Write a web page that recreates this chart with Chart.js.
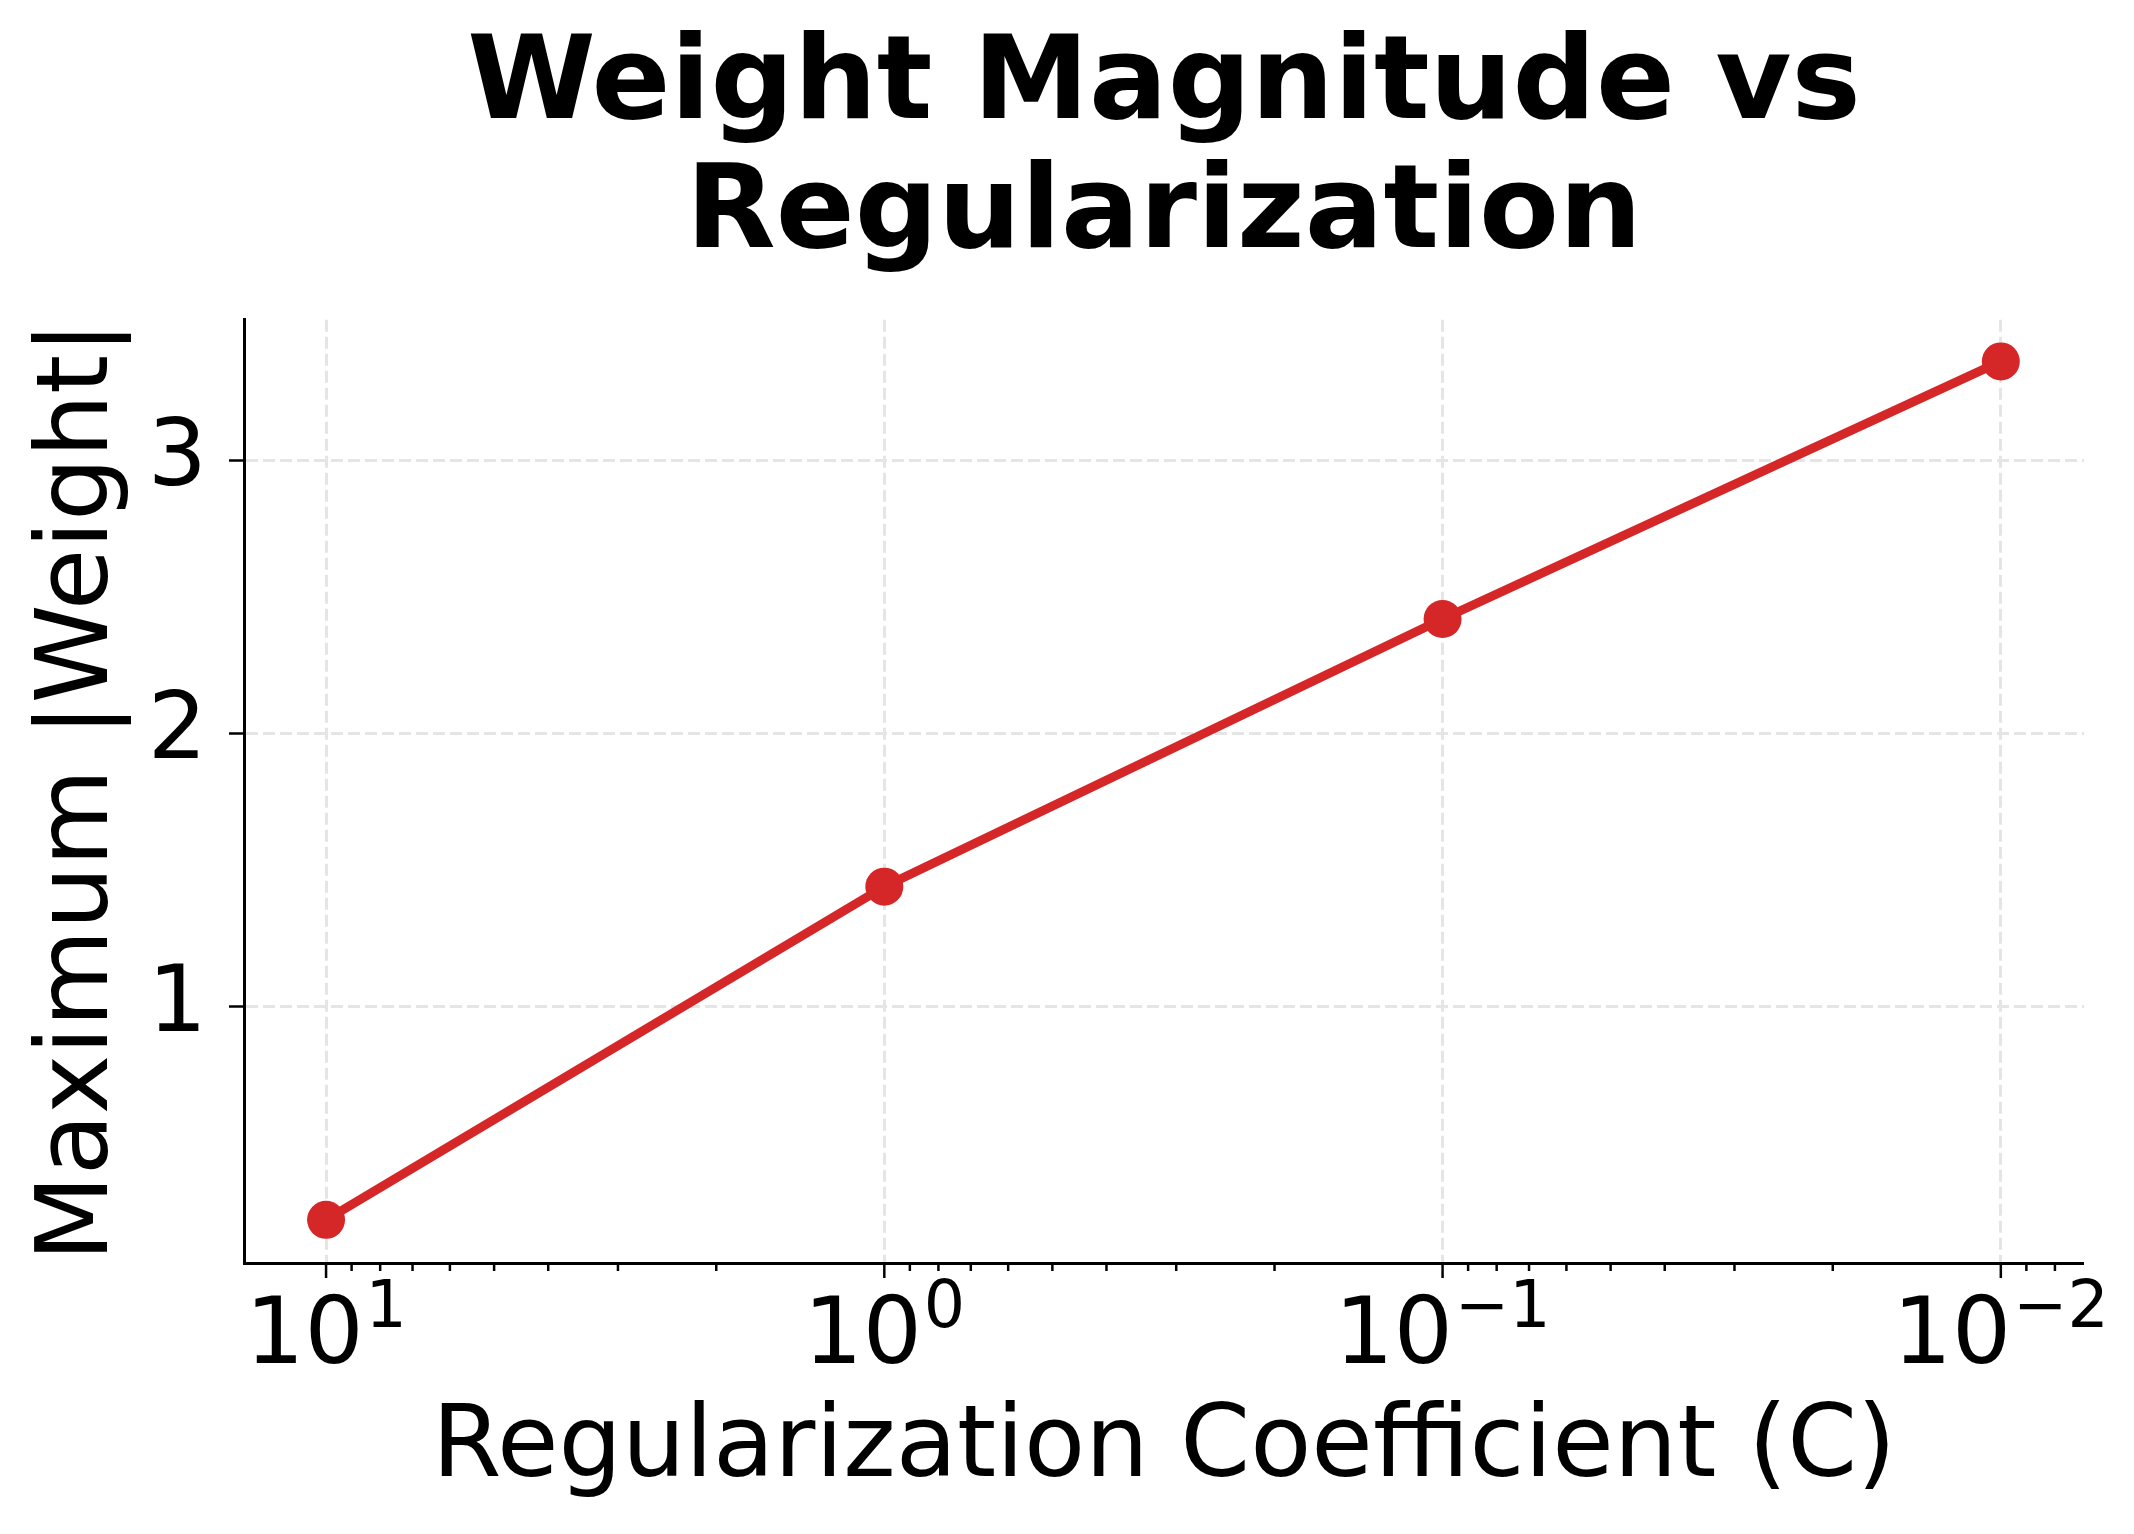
<!DOCTYPE html>
<html>
<head>
<meta charset="utf-8">
<script src="https://cdn.jsdelivr.net/npm/chart.js@4.4.1/dist/chart.umd.min.js"></script>
<style>
  html, body { margin: 0; padding: 0; background: #fff; }
  #wrap { width: 2134px; height: 1534px; }
</style>
</head>
<body>
<div id="wrap"><canvas id="chart" width="2134" height="1534"></canvas></div>
<script>
// valeurs
const cValues = [10, 1, 0.1, 0.01];
const maxWeight = [0.22, 1.44, 2.42, 3.363];
const yTickValues = [1, 2, 3];
const xTickExponents = { '1': '1', '0': '0', '-1': '\u22121', '-2': '\u22122' };
const xRange = [Math.pow(10, -2.149), Math.pow(10, 1.147)];
const yRange = [0.062, 3.516];

const FONT = "'DejaVu Sans', sans-serif";
const RED = '#d62728';
const GRID = '#e5e5e5';

function exponentOf(value) {
  const e = Math.round(Math.log10(value));
  return Math.abs(Math.log10(value) - e) < 1e-9 ? e : null;
}

// graduations de l'axe x (majeures, mineures) et étiquettes 10^n
const xTickMarks = {
  id: 'xTickMarks',
  afterDraw(chart) {
    const s = chart.scales.x;
    const ctx = chart.ctx;
    ctx.save();
    ctx.strokeStyle = '#000';
    ctx.lineWidth = 2.5;
    s.ticks.forEach(t => {
      const px = s.getPixelForValue(t.value);
      const len = t.major ? 15 : 8;
      ctx.beginPath();
      ctx.moveTo(px, s.top);
      ctx.lineTo(px, s.top + len);
      ctx.stroke();
    });
    ctx.fillStyle = '#000';
    ctx.textBaseline = 'alphabetic';
    ctx.textAlign = 'left';
    s.ticks.forEach(t => {
      const e = exponentOf(t.value);
      if (e === null || !(String(e) in xTickExponents)) return;
      const px = s.getPixelForValue(t.value);
      const base = '10', sup = xTickExponents[e];
      ctx.font = '93px ' + FONT;
      const wb = ctx.measureText(base).width;
      ctx.font = '65px ' + FONT;
      const ws = ctx.measureText(sup).width;
      const x0 = px - (wb + 2 + ws) / 2;
      ctx.font = '93px ' + FONT;
      ctx.fillText(base, x0, s.top + 100);
      ctx.font = '65px ' + FONT;
      ctx.fillText(sup, x0 + wb + 2, s.top + 64);
    });
    ctx.restore();
  }
};

new Chart(document.getElementById('chart'), {
  type: 'scatter',
  data: {
    datasets: [{
      data: cValues.map((c, i) => ({ x: c, y: maxWeight[i] })),
      showLine: true,
      borderColor: RED,
      backgroundColor: RED,
      borderWidth: 9,
      pointRadius: 19,
      pointHoverRadius: 19,
      pointBorderWidth: 0,
      clip: false
    }]
  },
  options: {
    responsive: false,
    devicePixelRatio: 1,
    animation: false,
    layout: { padding: { left: 0, right: 50, top: 0, bottom: 0 } },
    plugins: {
      legend: { display: false },
      tooltip: { enabled: false },
      title: {
        display: true,
        fullSize: false,
        text: ['Weight Magnitude vs', 'Regularization'],
        color: '#000',
        font: { family: FONT, size: 116.5, weight: 'bold', lineHeight: 1.11 },
        padding: { top: 23, bottom: 38 }
      }
    },
    scales: {
      x: {
        type: 'logarithmic',
        reverse: true,
        min: xRange[0],
        max: xRange[1],
        afterBuildTicks: scale => {
          const ticks = [];
          for (let e = -3; e <= 1; e++) {
            for (let m = 1; m < 10; m++) {
              const v = m * Math.pow(10, e);
              if (v >= xRange[0] && v <= xRange[1]) ticks.push({ value: v, major: m === 1 });
            }
          }
          scale.ticks = ticks;
        },
        afterFit: scale => { scale.height = 271; },
        ticks: { display: false, autoSkip: false, maxRotation: 0 },
        grid: {
          drawTicks: false,
          color: ctx => (ctx.tick && ctx.tick.major) ? GRID : 'rgba(0,0,0,0)',
          lineWidth: ctx => (ctx.tick && ctx.tick.major) ? 3 : 0
        },
        border: { display: true, color: '#000', width: 3, dash: [12, 5] },
        title: {
          display: true,
          text: 'Regularization Coefficient (C)',
          color: '#000',
          font: { family: FONT, size: 100 },
          padding: { top: 0, bottom: 24 }
        }
      },
      y: {
        min: yRange[0],
        max: yRange[1],
        afterBuildTicks: scale => { scale.ticks = yTickValues.map(v => ({ value: v })); },
        afterFit: scale => { scale.width = 244; },
        ticks: {
          padding: 22,
          color: '#000',
          font: { family: FONT, size: 93 },
          callback: value => String(value)
        },
        grid: {
          color: GRID,
          lineWidth: 3,
          drawTicks: true,
          tickLength: 15,
          tickColor: '#000',
          tickWidth: 2.5
        },
        border: { display: true, color: '#000', width: 3, dash: [12, 5] },
        title: {
          display: true,
          text: 'Maximum |Weight|',
          color: '#000',
          font: { family: FONT, size: 100 },
          padding: { top: 21, bottom: 0 }
        }
      }
    }
  },
  plugins: [xTickMarks]
});
</script>
</body>
</html>
